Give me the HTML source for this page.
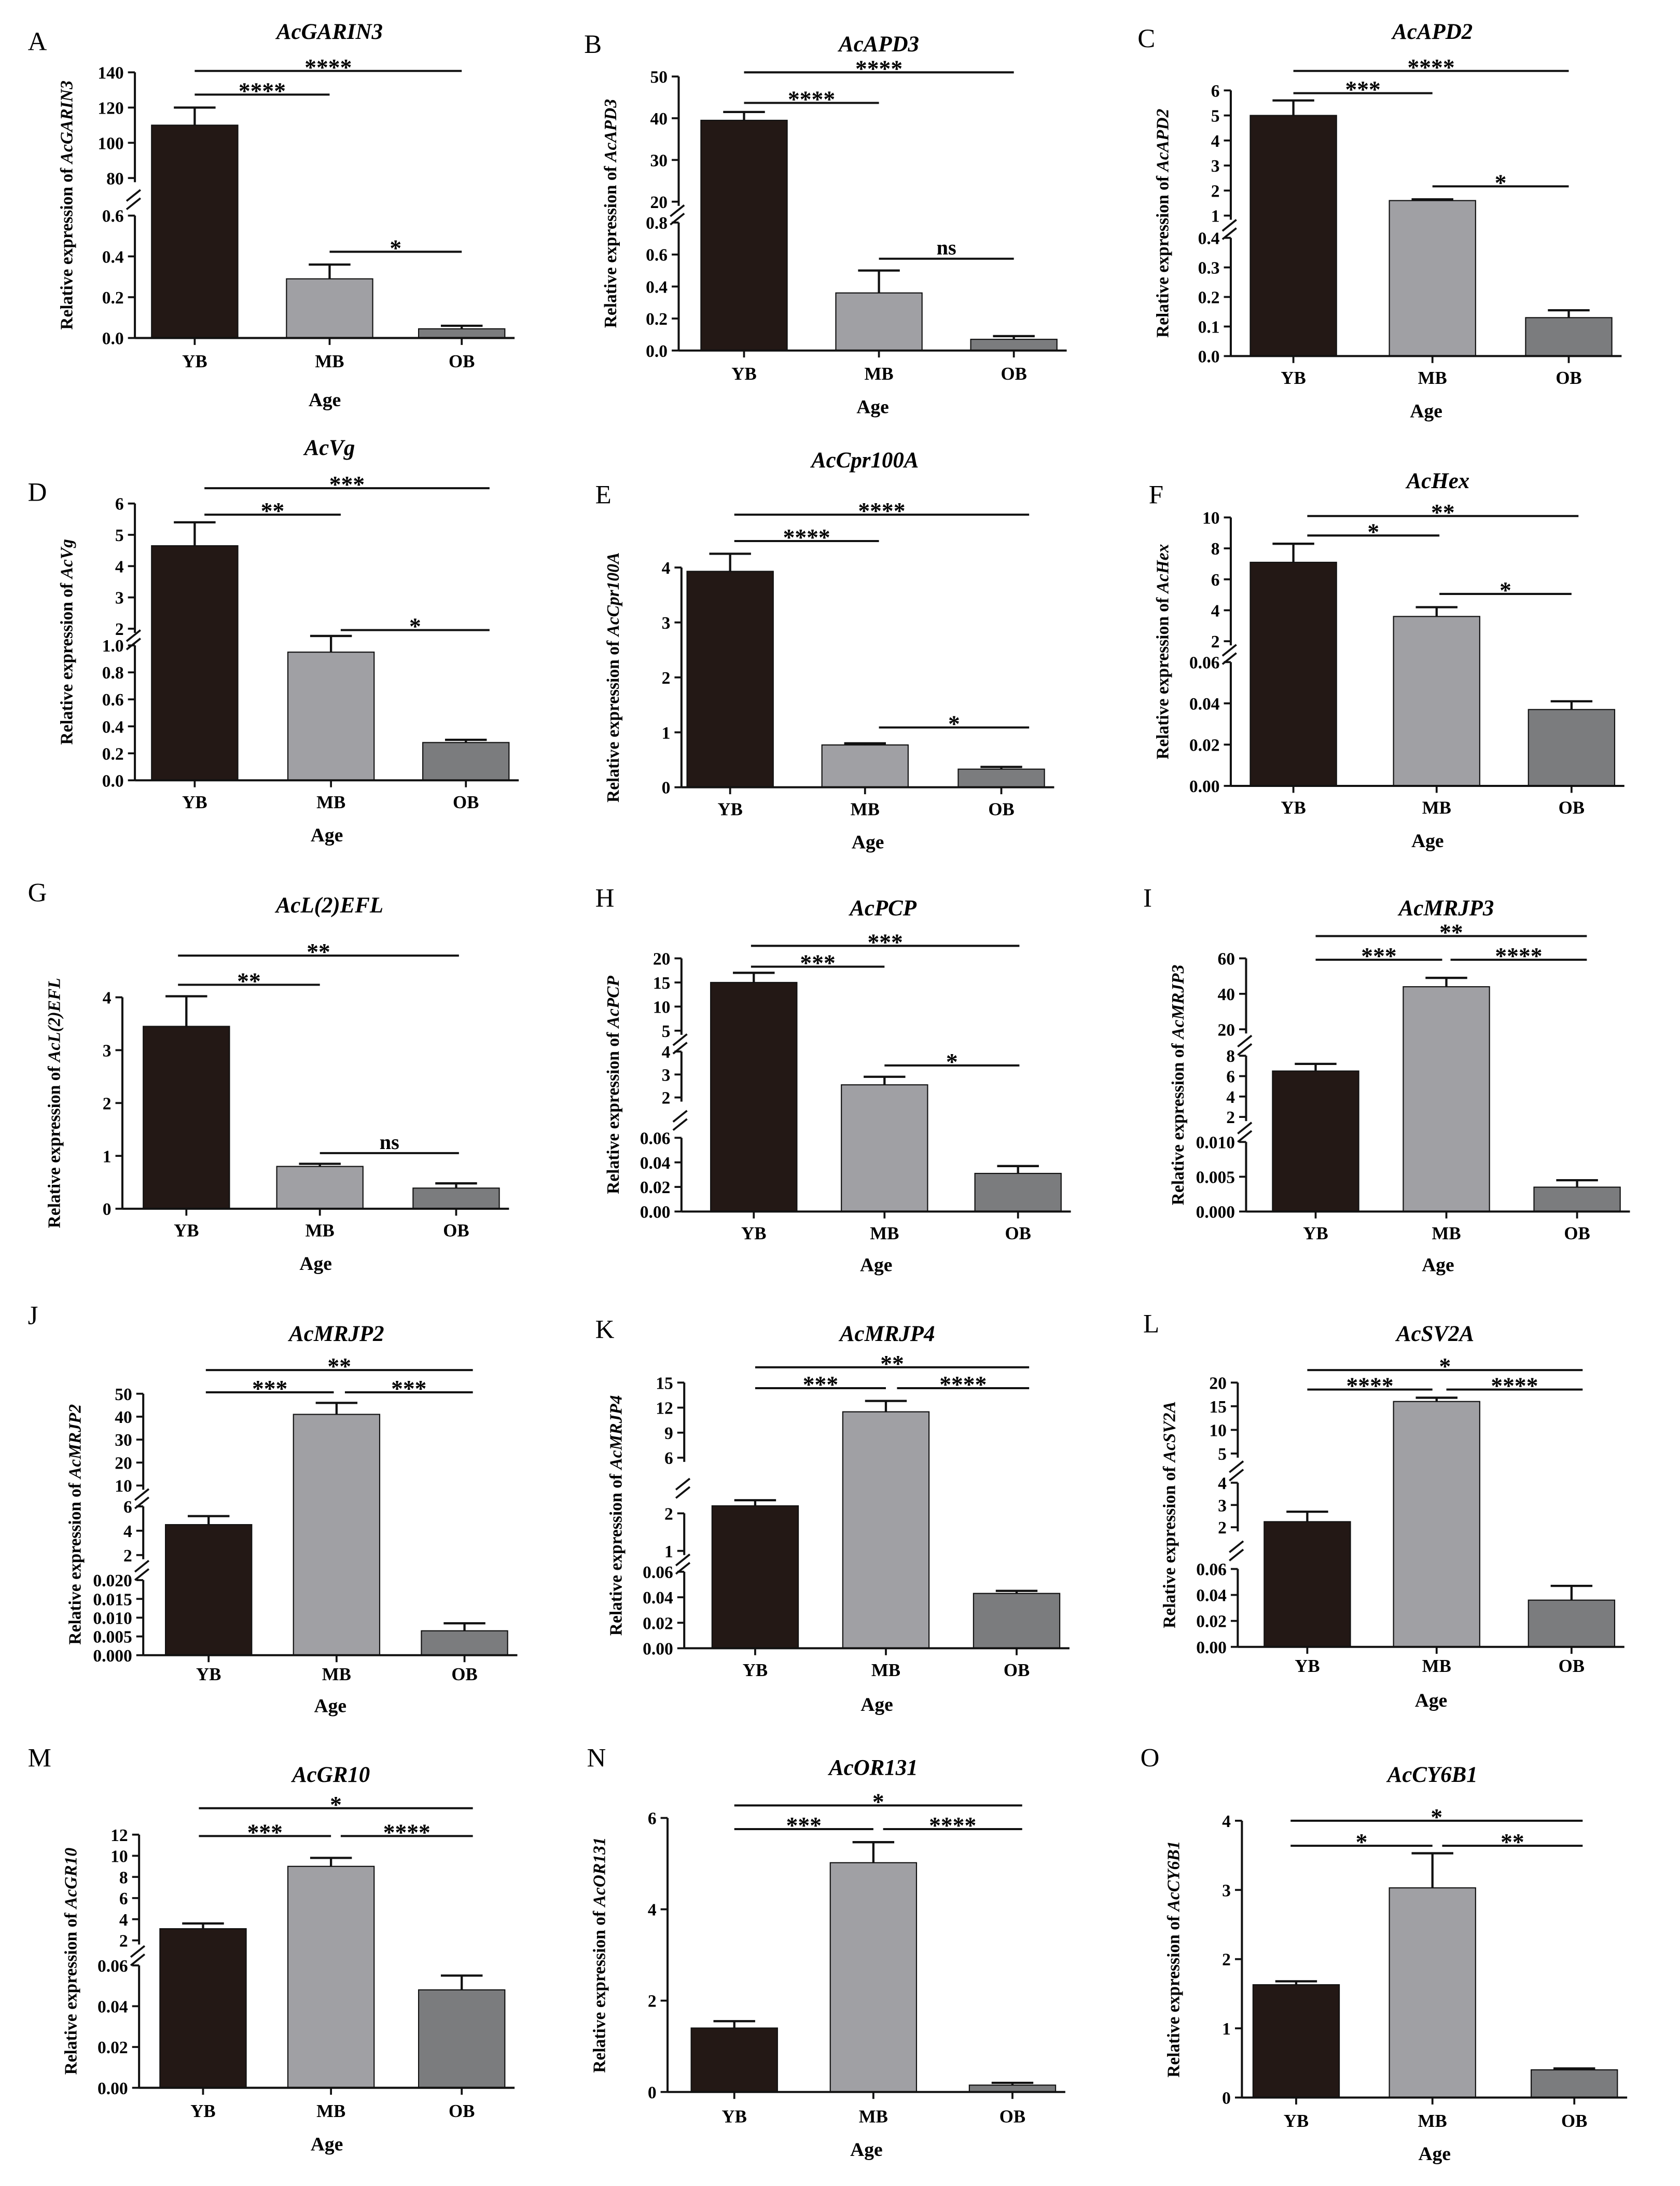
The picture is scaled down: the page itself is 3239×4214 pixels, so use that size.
<!DOCTYPE html>
<html><head><meta charset="utf-8">
<style>
html,body{margin:0;padding:0;background:#fff;}
svg{display:block;}
text{font-family:"Liberation Serif",serif;}
</style></head>
<body>
<svg id="fig" xmlns="http://www.w3.org/2000/svg" width="3239" height="4214" viewBox="0 0 1208 1571.6" preserveAspectRatio="none"></svg>
<script>
// ---- data arrays (categories, values, errors, ticks) ----
const categories = ["YB","MB","OB"];
const A_values=[110,0.29,0.045]; const A_err=[120,0.36,0.06];
const B_values=[39.5,0.36,0.07]; const B_err=[41.5,0.5,0.09];
const C_values=[5.0,1.6,0.13]; const C_err=[5.6,1.65,0.155];
const D_values=[4.65,0.95,0.28]; const D_err=[5.4,1.07,0.3];
const E_values=[3.93,0.77,0.33]; const E_err=[4.25,0.8,0.37];
const F_values=[7.1,3.6,0.037]; const F_err=[8.3,4.2,0.041];
const G_values=[3.45,0.8,0.39]; const G_err=[4.02,0.85,0.48];
const H_values=[15,2.55,0.031]; const H_err=[17,2.9,0.037];
const I_values=[6.5,44,0.0035]; const I_err=[7.2,49,0.0045];
const J_values=[4.5,41,0.0065]; const J_err=[5.2,46,0.0085];
const K_values=[2.2,11.5,0.043]; const K_err=[2.35,12.8,0.045];
const L_values=[2.25,16,0.036]; const L_err=[2.7,16.8,0.047];
const M_values=[3.1,9,0.048]; const M_err=[3.6,9.8,0.055];
const N_values=[1.4,5.02,0.15]; const N_err=[1.55,5.47,0.2];
const O_values=[1.63,3.03,0.4]; const O_err=[1.68,3.53,0.42];

const A_ticks=[[0,0.2,0.4,0.6],[80,100,120,140]]; const A_tl=[["0.0","0.2","0.4","0.6"],["80","100","120","140"]];
const B_ticks=[[0,0.2,0.4,0.6,0.8],[20,30,40,50]]; const B_tl=[["0.0","0.2","0.4","0.6","0.8"],["20","30","40","50"]];
const C_ticks=[[0,0.1,0.2,0.3,0.4],[1,2,3,4,5,6]]; const C_tl=[["0.0","0.1","0.2","0.3","0.4"],["1","2","3","4","5","6"]];
const D_ticks=[[0,0.2,0.4,0.6,0.8,1.0],[2,3,4,5,6]]; const D_tl=[["0.0","0.2","0.4","0.6","0.8","1.0"],["2","3","4","5","6"]];
const E_ticks=[[0,1,2,3,4]]; const E_tl=[["0","1","2","3","4"]];
const F_ticks=[[0,0.02,0.04,0.06],[2,4,6,8,10]]; const F_tl=[["0.00","0.02","0.04","0.06"],["2","4","6","8","10"]];
const G_ticks=[[0,1,2,3,4]]; const G_tl=[["0","1","2","3","4"]];
const H_ticks=[[0,0.02,0.04,0.06],[2,3,4],[5,10,15,20]]; const H_tl=[["0.00","0.02","0.04","0.06"],["2","3","4"],["5","10","15","20"]];
const I_ticks=[[0,0.005,0.010],[2,4,6,8],[20,40,60]]; const I_tl=[["0.000","0.005","0.010"],["2","4","6","8"],["20","40","60"]];
const J_ticks=[[0,0.005,0.01,0.015,0.02],[2,4,6],[10,20,30,40,50]]; const J_tl=[["0.000","0.005","0.010","0.015","0.020"],["2","4","6"],["10","20","30","40","50"]];
const K_ticks=[[0,0.02,0.04,0.06],[1,2],[6,9,12,15]]; const K_tl=[["0.00","0.02","0.04","0.06"],["1","2"],["6","9","12","15"]];
const L_ticks=[[0,0.02,0.04,0.06],[2,3,4],[5,10,15,20]]; const L_tl=[["0.00","0.02","0.04","0.06"],["2","3","4"],["5","10","15","20"]];
const M_ticks=[[0,0.02,0.04,0.06],[2,4,6,8,10,12]]; const M_tl=[["0.00","0.02","0.04","0.06"],["2","4","6","8","10","12"]];
const N_ticks=[[0,2,4,6]]; const N_tl=[["0","2","4","6"]];
const O_ticks=[[0,1,2,3,4]]; const O_tl=[["0","1","2","3","4"]];

const A_sig=["****","****","*"]; const B_sig=["****","****","ns"]; const C_sig=["****","***","*"];
const D_sig=["***","**","*"]; const E_sig=["****","****","*"]; const F_sig=["**","*","*"];
const G_sig=["**","**","ns"]; const H_sig=["***","***","*"]; const I_sig=["**","***","****"];
const J_sig=["**","***","***"]; const K_sig=["**","***","****"]; const L_sig=["*","****","****"];
const M_sig=["*","***","****"]; const N_sig=["*","***","****"]; const O_sig=["*","*","**"];

// ---- layout (positions only) ----
const panels=[
 {id:"A",gene:"AcGARIN3",v:A_values,e:A_err,t:A_ticks,tl:A_tl,sig:A_sig,lx:20,ly:36,tx:237,ty:28,ax:97,segY:[[243,155],[128,52]],bx:[140,237,332],labY:264,ageY:292,
  sl:[[140,332,51],[140,237,68],[237,332,181]]},
 {id:"B",gene:"AcAPD3",v:B_values,e:B_err,t:B_ticks,tl:B_tl,sig:B_sig,lx:420,ly:38,tx:632,ty:37,ax:488,segY:[[252,160],[145,55]],bx:[535,632,729],labY:273,ageY:297,
  sl:[[535,729,52],[535,632,74],[632,729,186]]},
 {id:"C",gene:"AcAPD2",v:C_values,e:C_err,t:C_ticks,tl:C_tl,sig:C_sig,lx:818,ly:34,tx:1030,ty:28,ax:885,segY:[[256,171],[155,65]],bx:[930,1030,1128],labY:276,ageY:300,
  sl:[[930,1128,51],[930,1030,67],[1030,1128,134]]},
 {id:"D",gene:"AcVg",v:D_values,e:D_err,t:D_ticks,tl:D_tl,sig:D_sig,lx:20,ly:360,tx:237,ty:327,ax:97,segY:[[561,464],[452,362]],bx:[140,238,335],labY:581,ageY:605,
  sl:[[147,352,351],[147,245,370],[245,352,453]]},
 {id:"E",gene:"AcCpr100A",v:E_values,e:E_err,t:E_ticks,tl:E_tl,sig:E_sig,lx:428,ly:362,tx:622,ty:336,ax:490,segY:[[566,408]],bx:[525,622,720],labY:586,ageY:610,
  sl:[[528,740,370],[528,632,389],[632,740,523]]},
 {id:"F",gene:"AcHex",v:F_values,e:F_err,t:F_ticks,tl:F_tl,sig:F_sig,lx:826,ly:362,tx:1034,ty:351,ax:885,segY:[[565,476],[461,372]],bx:[930,1033,1130],labY:585,ageY:609,
  sl:[[940,1135,371],[940,1035,385],[1035,1130,427]]},
 {id:"G",gene:"AcL(2)EFL",v:G_values,e:G_err,t:G_ticks,tl:G_tl,sig:G_sig,lx:20,ly:648,tx:237,ty:656,ax:88,segY:[[869,717]],bx:[134,230,328],labY:889,ageY:913,
  sl:[[128,330,687],[128,230,708],[230,330,829]]},
 {id:"H",gene:"AcPCP",v:H_values,e:H_err,t:H_ticks,tl:H_tl,sig:H_sig,lx:428,ly:652,tx:635,ty:658,ax:490,segY:[[871,818],[789,756],[741,689]],bx:[542,636,732],labY:891,ageY:914,
  sl:[[540,733,680],[540,636,695],[636,733,766]]},
 {id:"I",gene:"AcMRJP3",v:I_values,e:I_err,t:I_ticks,tl:I_tl,sig:I_sig,lx:822,ly:652,tx:1040,ty:658,ax:896,segY:[[871,821],[803,759],[740,689]],bx:[946,1040,1134],labY:891,ageY:914,
  sl:[[946,1141,673],[946,1037,690],[1043,1141,690]]},
 {id:"J",gene:"AcMRJP2",v:J_values,e:J_err,t:J_ticks,tl:J_tl,sig:J_sig,lx:20,ly:952,tx:242,ty:964,ax:103,segY:[[1190,1136],[1118,1083],[1068,1002]],bx:[150,242,334],labY:1208,ageY:1231,
  sl:[[148,340,985],[148,240,1001],[248,340,1001]]},
 {id:"K",gene:"AcMRJP4",v:K_values,e:K_err,t:K_ticks,tl:K_tl,sig:K_sig,lx:428,ly:962,tx:638,ty:964,ax:492,segY:[[1185,1130],[1115,1088],[1048,994]],bx:[543,637,731],labY:1205,ageY:1230,
  sl:[[543,740,983],[543,637,998],[645,740,998]]},
 {id:"L",gene:"AcSV2A",v:L_values,e:L_err,t:L_ticks,tl:L_tl,sig:L_sig,lx:822,ly:958,tx:1032,ty:964,ax:890,segY:[[1184,1128],[1098,1066],[1045,994]],bx:[940,1033,1130],labY:1202,ageY:1227,
  sl:[[940,1138,985],[940,1030,999],[1040,1138,999]]},
 {id:"M",gene:"AcGR10",v:M_values,e:M_err,t:M_ticks,tl:M_tl,sig:M_sig,lx:20,ly:1270,tx:238,ty:1281,ax:100,segY:[[1501,1413],[1395,1319]],bx:[146,238,332],labY:1522,ageY:1546,
  sl:[[143,340,1300],[143,238,1320],[245,340,1320]]},
 {id:"N",gene:"AcOR131",v:N_values,e:N_err,t:N_ticks,tl:N_tl,sig:N_sig,lx:422,ly:1270,tx:628,ty:1276,ax:480,segY:[[1504,1307]],bx:[528,628,728],labY:1526,ageY:1550,
  sl:[[528,735,1298],[528,628,1315],[635,735,1315]]},
 {id:"O",gene:"AcCY6B1",v:O_values,e:O_err,t:O_ticks,tl:O_tl,sig:O_sig,lx:820,ly:1270,tx:1030,ty:1281,ax:893,segY:[[1508,1309]],bx:[932,1030,1132],labY:1529,ageY:1553,
  sl:[[928,1138,1309],[928,1030,1327],[1037,1138,1327]]}
];
const colors=["#231815","#a0a0a4","#7b7c7e"];
const BW=62, NS="http://www.w3.org/2000/svg";
const svg=document.getElementById("fig");

function mk(tag,attrs,parent){const el=document.createElementNS(NS,tag);for(const k in attrs)el.setAttribute(k,attrs[k]);(parent||svg).appendChild(el);return el;}

function yScale(p,val){
  let s=0;
  for(let i=0;i<p.t.length;i++){ if(val>=p.t[i][0]) s=i; }
  const tk=p.t[s], sy=p.segY[s];
  const v0=tk[0], v1=tk[tk.length-1];
  return sy[0]+(val-v0)/(v1-v0)*(sy[1]-sy[0]);
}

panels.forEach(p=>{
  const g=mk("g",{});
  
  
  const base=p.segY[0][0];
  const top=p.segY[p.segY.length-1][1];
  const xEnd=p.bx[2]+38;
  const lt=mk("text",{x:p.lx,y:p.ly,"font-size":19},g); lt.textContent=p.id;
  
  
  const tt=mk("text",{x:p.tx,y:p.ty,"font-size":16,"font-weight":"bold","font-style":"italic","text-anchor":"middle"},g); tt.textContent=p.gene;
  
  
  p.v.forEach((val,i)=>{
    const yTop=yScale(p,val);
    const r=mk("rect",{x:p.bx[i]-BW/2,y:yTop,width:BW,height:base-yTop,fill:colors[i],stroke:"#111","stroke-width":0.8},g);
    
    
    const ye=yScale(p,p.e[i]);
    const eb=mk("path",{d:`M${p.bx[i]} ${yTop}V${ye}M${p.bx[i]-15} ${ye}H${p.bx[i]+15}`,stroke:"#111","stroke-width":1.6,fill:"none"},g);
    
    
  });
  p.t.forEach((tk,s)=>{
    const sy=p.segY[s];
    const y0=sy[0], y1=sy[1];
    const seg=mk("line",{x1:p.ax,y1:y0+(s>0?3:0),x2:p.ax,y2:y1,stroke:"#111","stroke-width":1.5},g);
    
    
    tk.forEach((val,k)=>{
      const y=y0+(val-tk[0])/(tk[tk.length-1]-tk[0])*(y1-y0);
      mk("line",{x1:p.ax-5,y1:y,x2:p.ax,y2:y,stroke:"#111","stroke-width":1.4},g);
      const tl=mk("text",{x:p.ax-8,y:y+4.5,"font-size":12.5,"font-weight":"bold","text-anchor":"end"},g);
      tl.textContent=p.tl[s][k];
      
      
    });
    if(s>0){
      const gy=(p.segY[s-1][1]+y0)/2+2;
      const br=mk("path",{d:`M${p.ax-6} ${gy+1}L${p.ax+4} ${gy-7}M${p.ax-6} ${gy+7}L${p.ax+4} ${gy-1}`,stroke:"#111","stroke-width":1.4,fill:"none"},g);
      
      
    }
  });
  const xa=mk("line",{x1:p.ax,y1:base,x2:xEnd,y2:base,stroke:"#111","stroke-width":1.5},g);
  
  
  categories.forEach((c,i)=>{
    mk("line",{x1:p.bx[i],y1:base,x2:p.bx[i],y2:base+5,stroke:"#111","stroke-width":1.4},g);
    const xl=mk("text",{x:p.bx[i],y:p.labY,"font-size":13,"font-weight":"bold","text-anchor":"middle"},g);
    xl.textContent=c;
    
    
  });
  const at=mk("text",{x:(p.ax+xEnd)/2,y:p.ageY,"font-size":14,"font-weight":"bold","text-anchor":"middle"},g);
  at.textContent="Age";
  
  
  const cy=(base+top)/2, lx=p.ax-45;
  const yl=mk("text",{x:lx,y:cy,"font-size":12.5,"font-weight":"bold","text-anchor":"middle",transform:`rotate(-90 ${lx} ${cy})`},g);
  
  
  const t1=mk("tspan",{},yl); t1.textContent="Relative expression of ";
  const t2=mk("tspan",{"font-style":"italic"},yl); t2.textContent=p.gene;
  p.sl.forEach((s,k)=>{
    const ln=mk("line",{x1:s[0],y1:s[2],x2:s[1],y2:s[2],stroke:"#111","stroke-width":1.5},g);
    
    
    const isNs=p.sig[k]==="ns";
    const st=mk("text",{x:(s[0]+s[1])/2,y:s[2]-(isNs?3:-3),"font-size":isNs?15:17,"font-weight":"bold","text-anchor":"middle"},g);
    st.textContent=p.sig[k];
    
    
  });
});
</script>
</body></html>
